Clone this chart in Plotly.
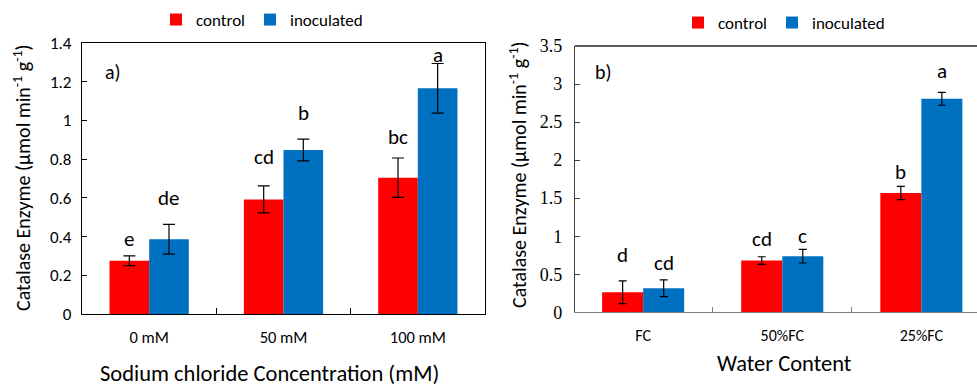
import plotly.graph_objects as go

# ---------------- data ----------------
nacl_cats = ["0 mM", "50 mM", "100 mM"]
nacl_control = [0.275, 0.592, 0.704]
nacl_control_err = [0.025, 0.070, 0.102]
nacl_inoc = [0.386, 0.847, 1.166]
nacl_inoc_err = [0.077, 0.056, 0.128]
nacl_letters_control = ["e", "cd", "bc"]
nacl_letters_inoc = ["de", "b", "a"]
nacl_letter_y_control = [0.387, 0.811, 0.914]
nacl_letter_y_inoc = [0.599, 1.038, 1.338]

water_cats = ["FC", "50%FC", "25%FC"]
water_control = [0.263, 0.680, 1.568]
water_control_err = [0.150, 0.050, 0.088]
water_inoc = [0.316, 0.738, 2.806]
water_inoc_err = [0.110, 0.090, 0.085]
water_letters_control = ["d", "cd", "b"]
water_letters_inoc = ["cd", "c", "a"]
water_letter_y_control = [0.755, 0.966, 1.848]
water_letter_y_inoc = [0.650, 1.005, 3.166]

series_names = ["control", "inoculated"]
colors = ["#FF0000", "#0070C0"]

SANS = "Carlito, Lato, sans-serif"
SERIF = "Liberation Serif, Times New Roman, serif"
BARGAP = 0.41
half = (1 - BARGAP) / 4  # center offset of each bar within a group

fig = go.Figure()

def add_bars(cats, vals, errs, name, color, xa, ya, legend, cap):
    fig.add_trace(go.Bar(
        x=cats, y=vals, name=name, marker=dict(color=color, line=dict(width=0)),
        error_y=dict(type="data", array=errs, visible=True, color="#000000",
                     thickness=1.2, width=cap),
        xaxis=xa, yaxis=ya, legend=legend, showlegend=True,
    ))

add_bars(nacl_cats, nacl_control, nacl_control_err, series_names[0], colors[0], "x", "y", "legend", 6)
add_bars(nacl_cats, nacl_inoc, nacl_inoc_err, series_names[1], colors[1], "x", "y", "legend", 6)
add_bars(water_cats, water_control, water_control_err, series_names[0], colors[0], "x2", "y2", "legend2", 4)
add_bars(water_cats, water_inoc, water_inoc_err, series_names[1], colors[1], "x2", "y2", "legend2", 4)

ann = []
def letters(labels, ys, sign, xr, yr):
    for i, (t, yv) in enumerate(zip(labels, ys)):
        ann.append(dict(x=i + sign * half, y=yv, xref=xr, yref=yr, text=t, showarrow=False,
                        font=dict(family=SANS, size=21, color="#000"),
                        xanchor="center", yanchor="middle"))

letters(nacl_letters_control, nacl_letter_y_control, -1, "x", "y")
letters(nacl_letters_inoc, nacl_letter_y_inoc, 1, "x", "y")
letters(water_letters_control, water_letter_y_control, -1, "x2", "y2")
letters(water_letters_inoc, water_letter_y_inoc, 1, "x2", "y2")

W, H = 977, 387
ytitle = "Catalase Enzyme (µmol min<sup>-1</sup> g<sup>-1</sup>)"
def pann(x, y, text, size, angle=0):
    return dict(x=x / W, y=1 - y / H, xref="paper", yref="paper", text=text, showarrow=False,
                textangle=angle, xanchor="center", yanchor="middle",
                font=dict(family=SANS, size=size, color="#000"))

ann += [
    pann(113, 72, "a)", 20),
    pann(603, 72, "b)", 20),
    pann(22, 178, ytitle, 20, -90),
    pann(518, 175, ytitle, 20, -90),
    pann(269, 373, "Sodium chloride Concentration (mM)", 22.5),
    pann(784, 363, "Water Content", 22.5),
]

fig.update_layout(
    width=W, height=H, margin=dict(l=0, r=0, t=0, b=0, autoexpand=False),
    paper_bgcolor="white", plot_bgcolor="white",
    barmode="group", bargap=BARGAP, bargroupgap=0,
    annotations=ann,
    font=dict(family=SANS, color="#000"),
    xaxis=dict(domain=[82 / W, 485 / W], range=[-0.5, 2.5], type="category",
               showline=True, linecolor="#000", linewidth=1.3, mirror=True,
               ticks="inside", ticklen=6, tickcolor="#000", tickson="boundaries",
               tickfont=dict(family=SANS, size=16.5, color="#000"), ticklabelstandoff=8,
               showgrid=False, zeroline=False, anchor="y", automargin=False),
    yaxis=dict(domain=[1 - 314 / H, 1 - 43 / H], range=[0, 1.4], dtick=0.2,
               showline=True, linecolor="#000", linewidth=1.3, mirror=True,
               ticks="inside", ticklen=5, tickcolor="#000",
               tickfont=dict(family=SANS, size=17, color="#000"), ticklabelstandoff=6,
               showgrid=False, zeroline=False, anchor="x", automargin=False),
    xaxis2=dict(domain=[575 / W, 1.0], range=[-0.49, 2.40], type="category",
                showline=True, linecolor="#808080", linewidth=1.3,
                ticks="inside", ticklen=5, tickcolor="#808080", tickson="boundaries",
                tickfont=dict(family=SANS, size=16, color="#000"), ticklabelstandoff=8,
                showgrid=False, zeroline=False, anchor="y2", automargin=False),
    yaxis2=dict(domain=[1 - 312.3 / H, 1 - 46 / H], range=[0, 3.5], dtick=0.5,
                showline=True, linecolor="#404040", linewidth=1.3,
                ticks="inside", ticklen=5, tickcolor="#404040",
                tickfont=dict(family=SERIF, size=18, color="#000"), ticklabelstandoff=8,
                showgrid=False, zeroline=False, anchor="x2", automargin=False),
    legend=dict(orientation="h", x=156 / W, y=1 - 20 / H, xanchor="left", yanchor="middle",
                font=dict(family=SANS, size=17, color="#000"), bgcolor="rgba(0,0,0,0)",
                traceorder="normal"),
    legend2=dict(orientation="h", x=678 / W, y=1 - 23 / H, xanchor="left", yanchor="middle",
                 font=dict(family=SANS, size=17, color="#000"), bgcolor="rgba(0,0,0,0)",
                 traceorder="normal"),
    shapes=[dict(type="line", xref="x2 domain", yref="y2 domain", x0=0, x1=1, y0=1, y1=1,
                 line=dict(color="#262626", width=1.3))],
)

fig.write_html("out.html")
